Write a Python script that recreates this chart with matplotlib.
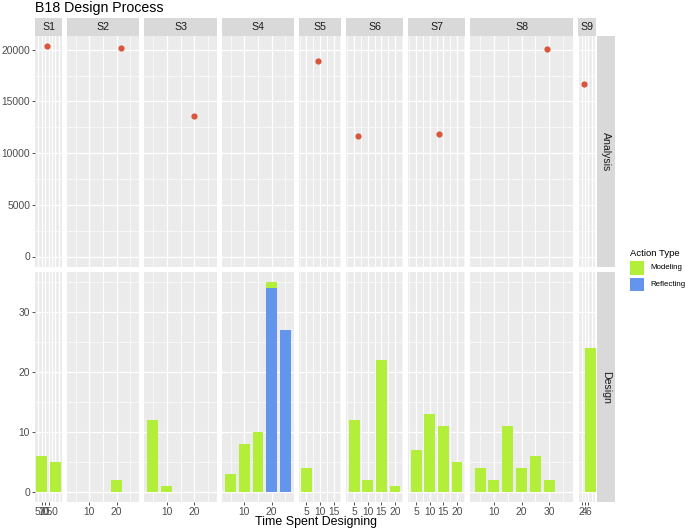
import matplotlib
matplotlib.use("Agg")
import matplotlib.pyplot as plt
from matplotlib.patches import Rectangle

plt.rcParams['font.family'] = ['Liberation Sans', 'DejaVu Sans']

# ---------------- data ----------------
subjects = ["S1", "S2", "S3", "S4", "S5", "S6", "S7", "S8", "S9"]
row_labels = ["Analysis", "Design"]
action_types = ["Modeling", "Reflecting"]

# Analysis row: one point per subject (None = no point)
analysis_x = [8.7, 21.5, 20.0, None, 9.1, 6.3, 13.5, 29.1, 3.6]
analysis_y = [20320, 20190, 13610, None, 18900, 11700, 11890, 20030, 16710]

# Design row: counts per time bin
modeling_x = [[5, 15], [20], [5, 10], [5, 10, 15, 20], [5],
              [5, 10, 15, 20], [5, 10, 15, 20], [5, 10, 15, 20, 25, 30], [7.4]]
modeling_n = [[6, 5], [2], [12, 1], [3, 8, 10, 1], [4],
              [12, 2, 22, 1], [7, 13, 11, 5], [4, 2, 11, 4, 6, 2], [24]]
reflecting_x = [[], [], [], [20, 25], [], [], [], [], []]
reflecting_n = [[], [], [], [34, 27], [], [], [], [], []]

# x tick labels per subject
x_breaks = [[5.0, 7.5, 10.0], [10, 20], [10, 20], [10, 20], [5, 10, 15],
            [5, 10, 15, 20], [5, 10, 15, 20], [10, 20, 30], [2, 4, 6]]
x_break_labels = [["5.0", "7.5", "10.0"], ["10", "20"], ["10", "20"], ["10", "20"],
                  ["5", "10", "15"], ["5", "10", "15", "20"], ["5", "10", "15", "20"],
                  ["10", "20", "30"], ["2", "4", "6"]]

top_breaks = [0, 5000, 10000, 15000, 20000]
bottom_breaks = [0, 10, 20, 30]

# ---------------- layout / style ----------------
W, H = 685, 532
xlims = [(0.1, 19.9), (1.8, 28.2), (1.8, 28.2), (1.8, 28.2), (2.3, 17.7),
         (2.05, 22.95), (2.05, 22.95), (1.3, 38.7), (-0.2, 10.6)]
bar_widths = [8, 4, 4, 4, 4, 4, 4, 4, 6.4]
# extra grid (S1 and S9 have dense grid lines)
grid_major = [[2.5, 5, 7.5, 10, 12.5, 15, 17.5], None, None, None, None, None, None, None,
              [0, 2, 4, 6, 8, 10]]
panel_px = [(35, 62), (67, 139), (144, 217), (222, 294), (299, 341),
            (346, 403), (408, 465), (470, 573), (578, 596)]
strip_y = (18, 36)
row_y = [(36, 267), (272, 502)]
right_strip_x = (596.5, 615)
ylims = [(-1016, 21336), (-1.75, 36.75)]

PANEL_BG = "#EBEBEB"
STRIP_BG = "#D9D9D9"
GREEN = "#B3EE3A"
BLUE = "#6495ED"
POINT = "#D9553C"
AX_TXT = "#4D4D4D"
TICK_FS = 7.4
STRIP_FS = 7.6
MAJ_LW = 0.9
MIN_LW = 0.45


def rect(x0, x1, y0, y1):
    return [x0 / W, 1 - y1 / H, (x1 - x0) / W, (y1 - y0) / H]


fig = plt.figure(figsize=(W / 100, H / 100), dpi=100)
fig.patch.set_facecolor("white")


def style_axes(ax):
    ax.set_facecolor(PANEL_BG)
    for s in ax.spines.values():
        s.set_visible(False)


def draw_grid(ax, i, row):
    lo, hi = xlims[i]
    if grid_major[i] is not None:
        for g in grid_major[i]:
            ax.axvline(g, color="white", lw=MAJ_LW, zorder=0.5)
    else:
        br = x_breaks[i]
        step = br[1] - br[0]
        majors = [b for b in br]
        g = br[0] - step
        while g >= lo:
            majors.append(g)
            g -= step
        g = br[-1] + step
        while g <= hi:
            majors.append(g)
            g += step
        for m in majors:
            if lo <= m <= hi:
                ax.axvline(m, color="white", lw=MAJ_LW, zorder=0.5)
            mn = m + step / 2
            if lo <= mn <= hi:
                ax.axvline(mn, color="white", lw=MIN_LW, zorder=0.5)
            mn = m - step / 2
            if lo <= mn <= hi:
                ax.axvline(mn, color="white", lw=MIN_LW, zorder=0.5)
    ybr = top_breaks if row == 0 else bottom_breaks
    ystep = ybr[1] - ybr[0]
    ylo, yhi = ylims[row]
    for b in ybr:
        ax.axhline(b, color="white", lw=MAJ_LW, zorder=0.5)
    for b in ybr + [ybr[-1] + ystep]:
        mn = b - ystep / 2
        if ylo <= mn <= yhi:
            ax.axhline(mn, color="white", lw=MIN_LW, zorder=0.5)


for i, subj in enumerate(subjects):
    x0, x1 = panel_px[i]
    # strip on top
    sax = fig.add_axes(rect(x0, x1, *strip_y))
    sax.set_facecolor(STRIP_BG)
    for s in sax.spines.values():
        s.set_visible(False)
    sax.set_xticks([]); sax.set_yticks([])
    sax.text(0.5, 0.5, subj, ha="center", va="center", fontsize=STRIP_FS,
             color="#1A1A1A", transform=sax.transAxes)

    for row in range(2):
        ax = fig.add_axes(rect(x0, x1, *row_y[row]))
        style_axes(ax)
        ax.set_xlim(*xlims[i])
        ax.set_ylim(*ylims[row])
        draw_grid(ax, i, row)
        if row == 0:
            if analysis_x[i] is not None:
                ax.scatter([analysis_x[i]], [analysis_y[i]], s=20, color=POINT,
                           zorder=3, linewidths=0)
            ax.set_xticks([])
            ybr = top_breaks
        else:
            # Reflecting at bottom, Modeling stacked on top
            refl = dict(zip(reflecting_x[i], reflecting_n[i]))
            if reflecting_x[i]:
                ax.bar(reflecting_x[i], reflecting_n[i], width=bar_widths[i],
                       color=BLUE, zorder=2, linewidth=0)
            if modeling_x[i]:
                bottoms = [refl.get(x, 0) for x in modeling_x[i]]
                ax.bar(modeling_x[i], modeling_n[i], width=bar_widths[i],
                       bottom=bottoms, color=GREEN, zorder=2, linewidth=0)
            ax.set_xticks(x_breaks[i])
            ax.set_xticklabels(x_break_labels[i])
            ybr = bottom_breaks
        ax.tick_params(axis="x", length=2.3, width=0.6, color="#333333",
                       labelsize=TICK_FS, labelcolor=AX_TXT, pad=1.2)
        if i == 0:
            ax.set_yticks(ybr)
            ax.set_yticklabels([str(b) for b in ybr])
            ax.tick_params(axis="y", length=2.3, width=0.6, color="#333333",
                           labelsize=TICK_FS, labelcolor=AX_TXT, pad=1.2)
        else:
            ax.set_yticks([])

# right strips
for row in range(2):
    rax = fig.add_axes(rect(right_strip_x[0], right_strip_x[1], *row_y[row]))
    rax.set_facecolor(STRIP_BG)
    for s in rax.spines.values():
        s.set_visible(False)
    rax.set_xticks([]); rax.set_yticks([])
    rax.text(0.5, 0.5, row_labels[row], ha="center", va="center", rotation=270,
             fontsize=STRIP_FS, color="#1A1A1A", transform=rax.transAxes)

# title and axis title
fig.text(35 / W, 1 - 8 / H, "B18 Design Process", ha="left", va="center",
         fontsize=10.2, color="black")
fig.text(316 / W, 1 - 522 / H, "Time Spent Designing", ha="center", va="center",
         fontsize=8.9, color="black")

# legend
fig.text(630 / W, 1 - 253 / H, "Action Type", ha="left", va="center",
         fontsize=6.8, color="black")
key_y = [(261, 274.5), (277.5, 291)]
for (ky0, ky1), col, lab in zip(key_y, [GREEN, BLUE], action_types):
    fig.patches.append(Rectangle((630 / W, 1 - ky1 / H), 13.5 / W, (ky1 - ky0) / H,
                                 transform=fig.transFigure, facecolor=col,
                                 edgecolor="none"))
    fig.text(650 / W, 1 - (ky0 + ky1) / 2 / H, lab, ha="left", va="center",
             fontsize=5.7, color="black")

fig.savefig("out.png", dpi=100)
